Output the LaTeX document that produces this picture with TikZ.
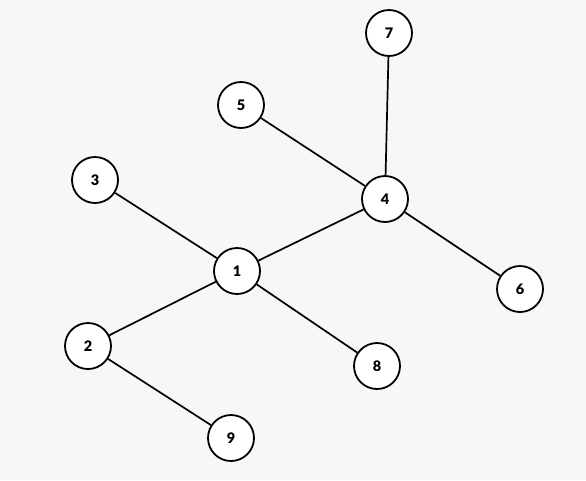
\documentclass[tikz,border=0pt]{standalone}
\usepackage{fontspec}
\setmainfont{Lato}
\newfontfamily\lblfont{Lato Black}
\begin{document}
\begin{tikzpicture}[x=1pt,y=-1pt,
  vtx/.style={circle,draw=black,line width=1.8pt,fill=white,minimum size=46pt,inner sep=0pt,font=\lblfont\fontsize{14.5}{14.5}\selectfont},
  edge/.style={line width=1.7pt}]
\fill[white!97!black] (0,0) rectangle (586,480);
\useasboundingbox (0,0) rectangle (586,480);
\node[vtx] (n7) at (389,33) {7};
\node[vtx] (n5) at (241,105) {5};
\node[vtx] (n4) at (385,199) {4};
\node[vtx] (n3) at (95,180) {3};
\node[vtx] (n1) at (237,271) {1};
\node[vtx] (n6) at (520,289) {6};
\node[vtx] (n2) at (88,346) {2};
\node[vtx] (n8) at (377,366) {8};
\node[vtx] (n9) at (231,438) {9};
\draw[edge] (n4) -- (n7);
\draw[edge] (n4) -- (n5);
\draw[edge] (n4) -- (n6);
\draw[edge] (n4) -- (n1);
\draw[edge] (n1) -- (n3);
\draw[edge] (n1) -- (n2);
\draw[edge] (n1) -- (n8);
\draw[edge] (n2) -- (n9);
\end{tikzpicture}
\end{document}
